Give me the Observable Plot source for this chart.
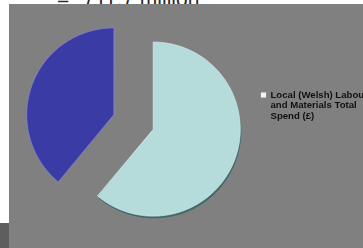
<!DOCTYPE html>
<html>
<head>
<meta charset="utf-8">
<script src="https://cdn.jsdelivr.net/npm/d3@7"></script>
<script src="https://cdn.jsdelivr.net/npm/@observablehq/plot@0.6"></script>
<style>
  html, body { margin: 0; padding: 0; background: #ffffff; width: 363px; height: 248px; overflow: hidden; }
  #wrap { position: relative; width: 363px; height: 248px; overflow: hidden; }
  .t { position: absolute; top: -12px; font: 21px "Liberation Sans", Arial, sans-serif; line-height: 21px; color: #2a2a2a; white-space: pre; }
  #panel { position: absolute; left: 9px; top: 4px; width: 354px; height: 244px; background: #808080; }
  #corner { position: absolute; left: 0; top: 223px; width: 9px; height: 25px; background: #5e5e5e; }
  #chart { position: absolute; left: 0; top: 0; }
  #chart svg { filter: blur(0.35px); }
</style>
</head>
<body>
<div id="wrap">
  <div class="t" id="t0"></div>
  <div class="t" id="t1"></div>
  <div id="panel"></div>
  <div id="corner"></div>
  <div id="chart"></div>
</div>
<script>
// ---- data ----
const categories = ["Local (Welsh) Labour and Materials Total Spend (£)", "Other"];
const shares = [61, 39];
const legendLines = ["Local (Welsh) Labour", "and Materials Total", "Spend (£)"];
const titleParts = ["=", "711.7 million"];

// title (cut off by the photo's top edge, as in the reference)
document.getElementById("t0").textContent = titleParts[0];
document.getElementById("t0").style.left = "57px";
document.getElementById("t1").textContent = titleParts[1];
document.getElementById("t1").style.left = "83px";

// ---- geometry ----
const R = 87, CX = 133, CY = 121.5, EXPLODE = 21;
const arcs = d3.pie().sort(null).startAngle(0).endAngle(2 * Math.PI)(shares);

function slicePoints(a, dx = 0, dy = 0) {
  const mid = (a.startAngle + a.endAngle) / 2;
  const cx = CX + EXPLODE * Math.sin(mid) + dx;
  const cy = CY - EXPLODE * Math.cos(mid) + dy;
  const pts = [{x: cx, y: cy}];
  const n = Math.ceil((a.endAngle - a.startAngle) / (Math.PI / 360));
  for (let k = 0; k <= n; k++) {
    const t = a.startAngle + (a.endAngle - a.startAngle) * k / n;
    pts.push({x: cx + R * Math.sin(t), y: cy - R * Math.cos(t)});
  }
  return pts;
}

const fills = ["#b5dbdb", "#3b3ba6"];
const strokes = ["#d2ebeb", "#8585cc"];

const marks = [
  // shadow under the light slice
  Plot.line(slicePoints(arcs[0], 1, 2.2), {x: "x", y: "y", fill: "#3e6a6b", stroke: "none", curve: "linear-closed"}),
  ...arcs.map((a, i) =>
    Plot.line(slicePoints(a), {x: "x", y: "y", fill: fills[i], stroke: strokes[i], strokeWidth: 0.8, curve: "linear-closed"})
  ),
  // legend
  Plot.dot([categories[0]], {x: () => 263, y: () => 94.5, symbol: "square", r: 2.9, fill: "#f2f2f2", stroke: "none"}),
  Plot.text(legendLines, {
    x: () => 270, y: (d, i) => 94.5 + i * 10.4,
    text: d => d, textAnchor: "start", fontSize: 9.6, fontWeight: "bold",
    fontFamily: "Liberation Sans, Arial, sans-serif", fill: "#111"
  })
];

const chart = Plot.plot({
  width: 363, height: 248,
  margin: 0,
  x: {domain: [0, 363], range: [0, 363], axis: null},
  y: {domain: [0, 248], range: [0, 248], axis: null},
  style: {background: "transparent"},
  marks
});
document.getElementById("chart").appendChild(chart);
</script>
</body>
</html>
